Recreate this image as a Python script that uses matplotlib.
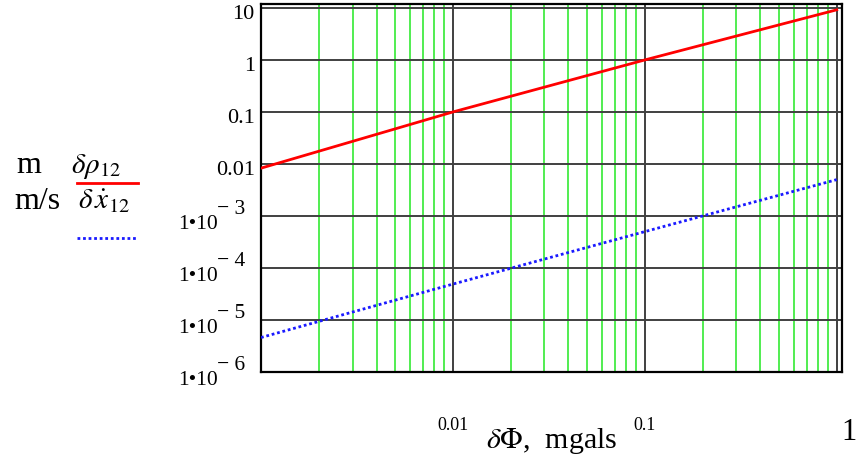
import numpy as np
import matplotlib.pyplot as plt
from matplotlib.lines import Line2D

plt.rcParams['font.family'] = ['Liberation Serif', 'DejaVu Serif']
plt.rcParams['mathtext.fontset'] = 'stix'

# gravity error (mgals) vs. position / velocity errors
dphi = [0.001, 0.01, 0.1, 1.0]
drho = [0.0083, 0.1, 1.0, 9.2]           # m
dxdot = [4.6e-6, 4.9e-5, 5.0e-4, 5.0e-3]  # m/s

y_plain = [10, 1, 0.1, 0.01]
y_plain_lbl = ['10', '1', '0.1', '0.01']
y_exp = [-3, -4, -5, -6]
x_lbl_vals = [0.01, 0.1]
x_lbl = ['0.01', '0.1']

W, H = 858, 461
fig = plt.figure(figsize=(W / 100, H / 100), dpi=100)
ax = fig.add_axes([261 / W, 1 - 372 / H, (841.5 - 261) / W, (372 - 4) / H])

ax.plot(dphi, drho, color='red', lw=2, zorder=3)
ax.plot(dphi, dxdot, color='#1a1aff', lw=2, linestyle=(0, (1, 1)), zorder=3)

ax.set_xscale('log')
ax.set_yscale('log')
ax.set_xlim(0.001, 1.059)
ax.set_ylim(1e-6, 11.9)

ax.grid(which='major', color='#404040', lw=1.4)
ax.xaxis.grid(which='minor', color='#22e822', lw=1.1)
ax.yaxis.grid(False, which='minor')
ax.tick_params(which='both', length=0, labelleft=False, labelbottom=False)
for s in ax.spines.values():
    s.set_linewidth(1.6)
    s.set_color('black')

# y labels, Mathcad style
for v, t in zip(y_plain, y_plain_lbl):
    ax.annotate(t, xy=(0, v), xycoords=('axes fraction', 'data'),
                xytext=(-4.5, -5), textcoords='offset points',
                ha='right', va='center', fontsize=16)
for e in y_exp:
    v = 10.0 ** e
    ax.annotate('1\u202210', xy=(0, v), xycoords=('axes fraction', 'data'),
                xytext=(-31, -5.8), textcoords='offset points',
                ha='right', va='center', fontsize=15.5)
    ax.annotate('\u2212 %d' % -e, xy=(0, v), xycoords=('axes fraction', 'data'),
                xytext=(-32, 4.8), textcoords='offset points',
                ha='left', va='center', fontsize=15.5)

# x labels
for v, t in zip(x_lbl_vals, x_lbl):
    ax.annotate(t, xy=(v, 0), xycoords=('data', 'axes fraction'),
                xytext=(0, -38.5), textcoords='offset points',
                ha='center', va='center', fontsize=13)
ax.annotate('1', xy=(1, 0), xycoords=('data', 'axes fraction'),
            xytext=(8.5, -43.5), textcoords='offset points',
            ha='center', va='center', fontsize=22)
fig.text(552 / W, 1 - 441 / H, r'$\delta\Phi$,  mgals', ha='center', va='center',
         fontsize=21.5)

# left-hand legend
fig.text(16 / W, 1 - 173 / H, 'm', ha='left', va='baseline', fontsize=23)
fig.text(71 / W, 1 - 173 / H, r'$\delta\rho_{12}$', ha='left', va='baseline', fontsize=21)
fig.text(14 / W, 1 - 209 / H, 'm/s', ha='left', va='baseline', fontsize=23)
fig.text(78 / W, 1 - 209 / H, r'$\delta\,\dot{x}_{12}$', ha='left', va='baseline', fontsize=21)
fig.add_artist(Line2D([77 / W, 138 / W], [1 - 183 / H, 1 - 183 / H],
                      color='red', lw=2, transform=fig.transFigure))
fig.add_artist(Line2D([77 / W, 137 / W], [1 - 238 / H, 1 - 238 / H],
                      color='#1a1aff', lw=2, linestyle=(0, (1, 1)),
                      transform=fig.transFigure))

fig.savefig('out.png', dpi=100)
